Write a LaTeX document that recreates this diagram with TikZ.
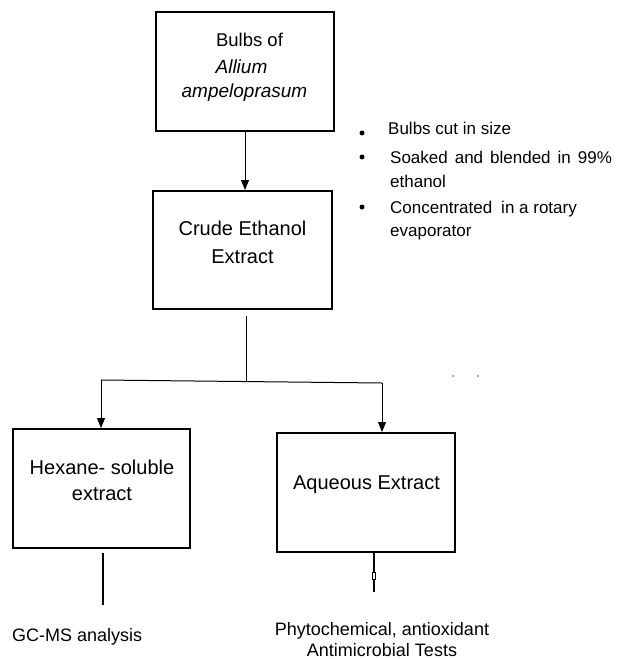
\documentclass[tikz,border=0pt]{standalone}
\usepackage{fontspec}
\setmainfont{Liberation Sans}
\usetikzlibrary{arrows.meta}
\begin{document}
\begin{tikzpicture}[x=1pt,y=-1pt,
  box/.style={draw, line width=2pt, inner sep=0pt},
  conn/.style={line width=1pt},
  thickconn/.style={line width=2pt},
  tipend/.style={-{Triangle[width=8pt,length=10pt]}},
  big/.style={font=\fontsize{20}{24}\selectfont, inner sep=0pt, anchor=base},
  mid/.style={font=\fontsize{18}{22}\selectfont, inner sep=0pt, anchor=base},
  ital/.style={font=\fontsize{19}{23}\selectfont\itshape, inner sep=0pt, anchor=base},
  bul/.style={font=\fontsize{17}{21}\selectfont, inner sep=0pt, anchor=base west},
  dotb/.style={circle, fill=black, inner sep=0pt, minimum size=5pt}]
\useasboundingbox (0,0) rectangle (619,659);
\fill[white] (0,0) rectangle (619,659);

% boxes
\node[box, minimum width=178pt, minimum height=119pt] (bulbs) at (245,71.5) {};
\node[box, minimum width=179pt, minimum height=118pt] (crude) at (242.5,250) {};
\node[box, minimum width=177pt, minimum height=119pt] (hex) at (101.5,488.5) {};
\node[box, minimum width=178pt, minimum height=119pt] (aq) at (366,492.5) {};

% box texts
\node[mid, font=\fontsize{18.5}{22}\selectfont] (b1) at (249.5,46) {Bulbs of};
\node[ital] (b2) at (241.5,73) {Allium};
\node[ital] (b3) at (244.5,97) {ampeloprasum};
\node[big] (c1) at (242.5,235) {Crude Ethanol};
\node[big] (c2) at (242.5,263) {Extract};
\node[big] (h1) at (102,474) {Hexane- soluble};
\node[big] (h2) at (102,500) {extract};
\node[big] (a1) at (366.5,489) {Aqueous Extract};

% bullets
\node[dotb] (d1) at (362,133) {};
\node[dotb] (d2) at (362,157) {};
\node[dotb] (d3) at (362,207) {};
\node[bul] (s1) at (388,134) {Bulbs cut in size};
\node[bul] (s2) at (390,163) {Soaked\hspace{7pt}and\hspace{7pt}blended\hspace{7pt}in\hspace{7pt}99\%};
\node[bul] (s3) at (390,187) {ethanol};
\node[bul] (s4) at (390,213) {Concentrated\hspace{9pt}in a rotary};
\node[bul] (s5) at (390,236) {evaporator};

% connectors
\draw[conn, tipend] (bulbs.south) -- (bulbs.south |- crude.north);
\coordinate (js) at (246,316);
\coordinate (jn) at (246,381);
\coordinate (jl) at (101,380);
\coordinate (jr) at (382,383);
\draw[conn] (js) -- (jn);
\draw[conn] (jl) -- (jr);
\draw[conn, tipend] (jl) -- (jl |- hex.north);
\draw[conn, tipend] (jr) -- (jr |- aq.north);

\coordinate (hs) at (103,553);
\coordinate (he) at (103,605);
\draw[thickconn] (hs) -- (he);
\coordinate (as) at (374,552);
\coordinate (ae) at (374,592);
\draw[thickconn] (as) -- (ae);
\filldraw[fill=white, draw=black, line width=0.8pt] (372.5,572) rectangle (375.5,579);

% specks
\fill[gray!60] (452,375) rectangle (454,377);
\fill[gray!60] (477,375) rectangle (479,377);

% bottom texts
\node[mid, anchor=base west] (g1) at (12,641) {GC-MS analysis};
\node[mid] (p1) at (382,635) {Phytochemical, antioxidant};
\node[mid] (p2) at (382,656) {Antimicrobial Tests};
\end{tikzpicture}
\end{document}
